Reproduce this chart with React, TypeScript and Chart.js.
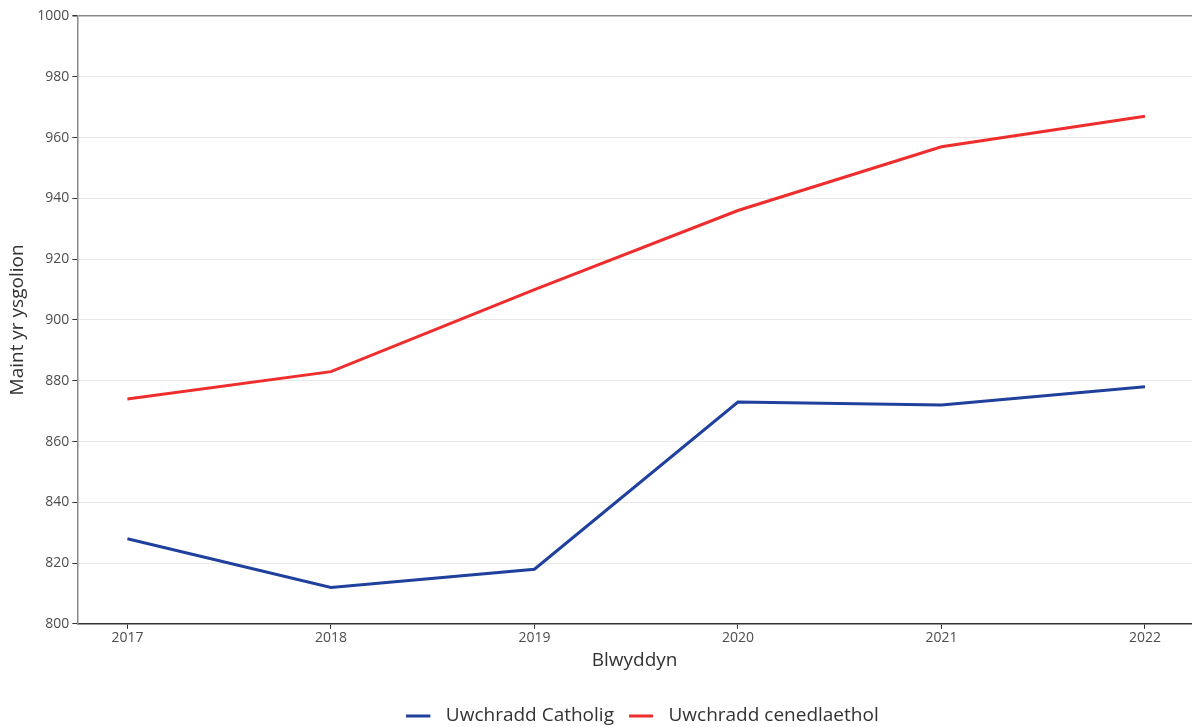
import React, { useEffect, useRef } from "react";
import { Chart, registerables } from "chart.js";

Chart.register(...registerables);

const years = [2017, 2018, 2019, 2020, 2021, 2022];
const catholicValues = [828, 812, 818, 873, 872, 878];
const nationalValues = [874, 883, 910, 936, 957, 967];
const seriesNames = ["Uwchradd Catholig", "Uwchradd cenedlaethol"];
const seriesColors = ["#1f409c", "#f02d2d"];
const xTitle = "Blwyddyn";
const yTitle = "Maint yr ysgolion";

const FONT = "'Open Sans', 'Noto Sans', sans-serif";

function legendSwatch(color: string): HTMLCanvasElement {
  const c = document.createElement("canvas");
  c.width = 30;
  c.height = 4;
  const g = c.getContext("2d")!;
  g.fillStyle = color;
  g.fillRect(0, 0.5, 24, 3);
  return c;
}

const legendShift = {
  id: "legendShift",
  afterLayout(chart: any) {
    const lg = chart.legend;
    if (!lg) return;
    const center = (lg.left + lg.right) / 2;
    const d = 642.5 - center;
    lg.left += d;
    lg.right += d;
  },
};

export default function App() {
  const ref = useRef<HTMLCanvasElement | null>(null);
  useEffect(() => {
    document.body.style.margin = "0";
    const chart = new Chart(ref.current!, {
      type: "line",
      data: {
        datasets: [
          {
            label: seriesNames[0],
            data: years.map((y, i) => ({ x: y, y: catholicValues[i] })),
            borderColor: seriesColors[0],
            backgroundColor: seriesColors[0],
            borderWidth: 3,
            pointRadius: 0,
            pointStyle: legendSwatch(seriesColors[0]),
            tension: 0,
          },
          {
            label: seriesNames[1],
            data: years.map((y, i) => ({ x: y, y: nationalValues[i] })),
            borderColor: seriesColors[1],
            backgroundColor: seriesColors[1],
            borderWidth: 3,
            pointRadius: 0,
            pointStyle: legendSwatch(seriesColors[1]),
            tension: 0,
          },
        ],
      },
      plugins: [legendShift],
      options: {
        animation: false,
        responsive: false,
        maintainAspectRatio: false,
        layout: { padding: { left: 6.5, right: 0, top: 16, bottom: -8.5 } },
        plugins: {
          legend: {
            position: "bottom",
            labels: {
              usePointStyle: true,
              pointStyleWidth: 30,
              boxHeight: 8,
              color: "#333",
              font: { family: FONT, size: 19 },
              padding: 15,
            },
          },
          tooltip: { enabled: false },
        },
        scales: {
          x: {
            type: "linear",
            min: 2016.754,
            max: 2022.231,
            afterBuildTicks: (axis: any) => {
              axis.ticks = years.map((v) => ({ value: v }));
            },
            ticks: {
              color: "#4d4d4d",
              font: { family: FONT, size: 14 },
              callback: (v: any) => String(v),
              padding: 1,
            },
            grid: {
              drawOnChartArea: false,
              drawTicks: true,
              tickLength: 5,
              tickColor: "#333",
            },
            border: { display: true, color: "#333", width: 1.5 },
            title: {
              display: true,
              text: xTitle,
              color: "#333",
              font: { family: FONT, size: 19 },
              padding: { top: 1, bottom: 20 },
            },
          },
          y: {
            min: 800,
            max: 1000,
            ticks: {
              stepSize: 20,
              color: "#4d4d4d",
              font: { family: FONT, size: 14 },
              padding: 3,
              callback: (v: any) => String(v),
            },
            grid: {
              color: (ctx: any) => (ctx.tick && ctx.tick.value === 1000 ? "#888" : "#e8e8e8"),
              lineWidth: (ctx: any) => (ctx.tick && ctx.tick.value === 1000 ? 1.5 : 1),
              tickColor: "#333",
              tickLength: 5,
            },
            border: { display: true, color: "#888", width: 1.5 },
            title: {
              display: true,
              text: yTitle,
              color: "#333",
              font: { family: FONT, size: 19 },
              padding: { top: 0, bottom: 5 },
            },
          },
        },
      },
    } as any);
    return () => chart.destroy();
  }, []);
  return (
    <div style={{ position: "absolute", left: 0, top: 0, width: 1192, height: 727 }}>
      <canvas ref={ref} width={1192} height={727} style={{ width: 1192, height: 727 }} />
    </div>
  );
}
